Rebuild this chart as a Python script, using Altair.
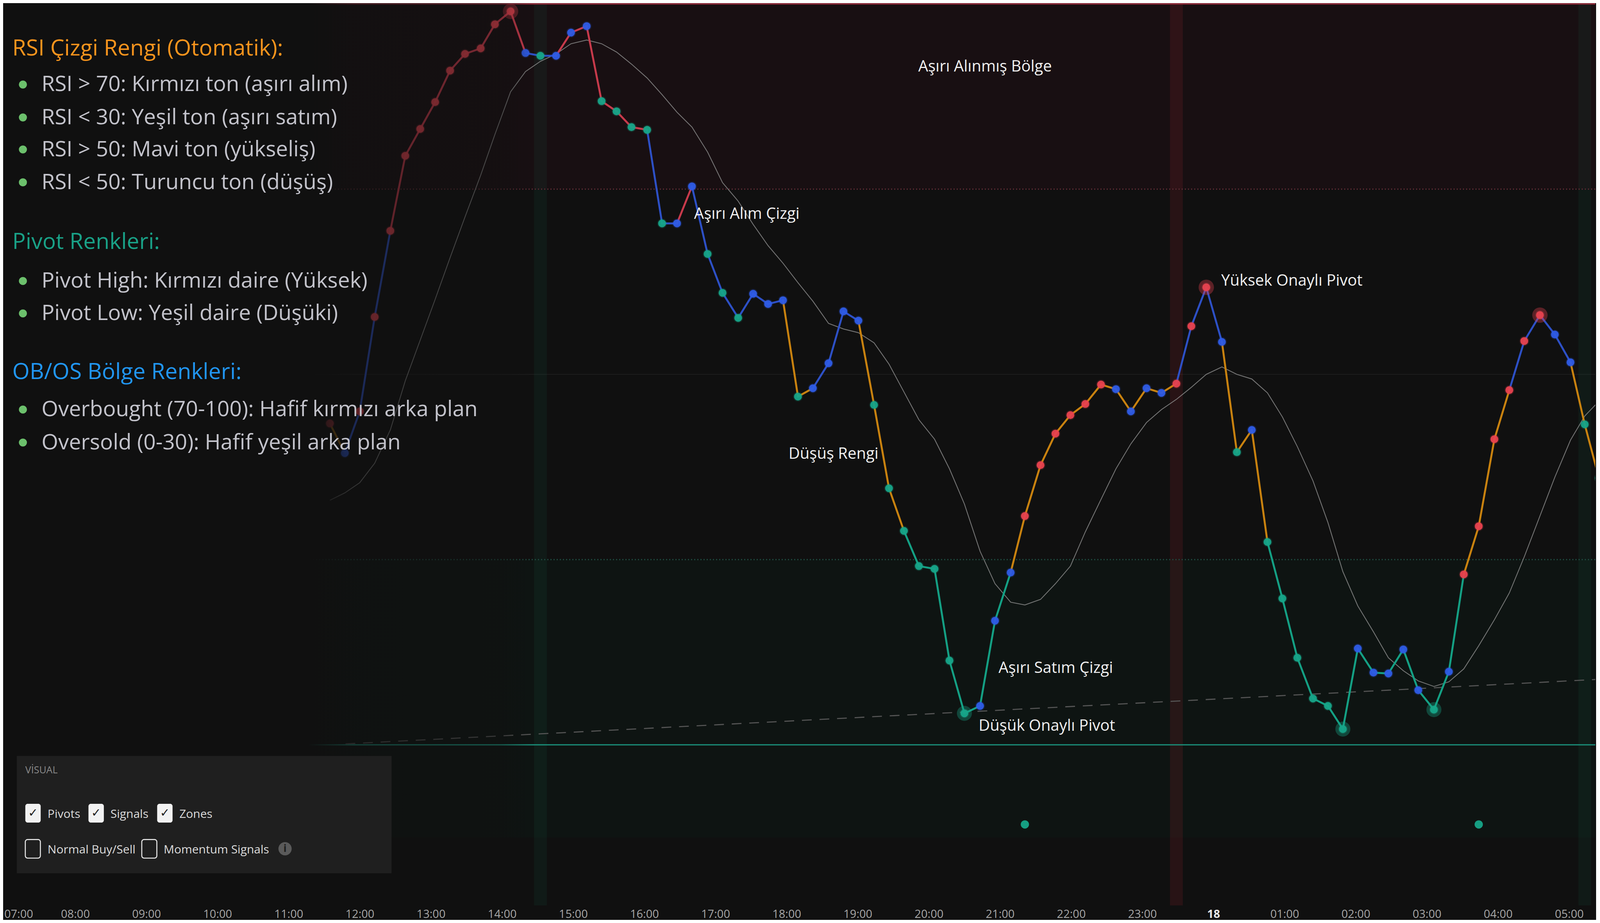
import altair as alt
import pandas as pd

# ------------------------------------------------------------------
# Data
# ------------------------------------------------------------------
# bar times (hours since 00:00 of the 17th; 24 = midnight "18")
hours = [11.58, 11.79, 12.00, 12.21, 12.43, 12.64, 12.85, 13.06, 13.27, 13.48,
         13.70, 13.90, 14.12, 14.33, 14.54, 14.76, 14.97, 15.19, 15.40, 15.61,
         15.82, 16.04, 16.25, 16.46, 16.67, 16.89, 17.10, 17.32, 17.53, 17.74,
         17.95, 18.16, 18.37, 18.59, 18.80, 19.01, 19.23, 19.44, 19.65, 19.86,
         20.08, 20.29, 20.50, 20.72, 20.93, 21.15, 21.35, 21.57, 21.78, 21.99,
         22.20, 22.42, 22.63, 22.84, 23.06, 23.27, 23.48, 23.69, 23.90, 24.12,
         24.33, 24.54, 24.76, 24.97, 25.18, 25.40, 25.61, 25.82, 26.03, 26.25,
         26.46, 26.67, 26.88, 27.10, 27.31, 27.52, 27.73, 27.95, 28.16, 28.37,
         28.59, 28.80, 29.02, 29.22, 29.42]

rsi = [44.7, 41.5, 46.0, 56.2, 65.5, 73.6, 76.5, 79.4, 82.8, 84.6,
       85.2, 87.8, 89.2, 84.7, 84.4, 84.4, 86.9, 87.6, 79.5, 78.4,
       76.7, 76.4, 66.3, 66.3, 70.3, 63.0, 58.8, 56.1, 58.7, 57.6,
       58.0, 47.6, 48.5, 51.2, 56.8, 55.8, 46.7, 37.7, 33.1, 29.3,
       29.0, 19.1, 13.4, 14.2, 23.4, 28.6, 34.7, 40.2, 43.6, 45.6,
       46.8, 48.9, 48.4, 46.0, 48.5, 48.0, 49.0, 55.2, 59.4, 53.5,
       41.6, 44.0, 31.9, 25.8, 19.4, 15.0, 14.2, 11.7, 20.4, 17.8,
       17.7, 20.3, 15.9, 13.8, 17.9, 28.4, 33.6, 43.0, 48.3, 53.6,
       56.4, 54.3, 51.3, 44.6, 38.8]

rsi_ma = [36.4, 37.2, 38.3, 40.4, 44.0, 49.3, 53.7, 58.1, 62.6, 67.0,
          71.5, 75.9, 80.5, 82.7, 83.8, 84.6, 85.7, 86.1, 85.7, 84.8,
          83.5, 82.0, 80.2, 78.3, 76.7, 74.0, 70.7, 68.7, 66.2, 63.9,
          62.0, 59.9, 57.9, 55.5, 54.9, 54.5, 53.4, 51.1, 48.1, 45.1,
          43.0, 39.8, 36.0, 30.9, 27.4, 25.4, 25.1, 25.7, 27.4, 29.3,
          33.0, 36.5, 39.8, 42.5, 44.8, 46.2, 47.3, 48.6, 50.0, 50.8,
          50.0, 49.5, 48.0, 45.4, 42.2, 38.5, 34.0, 28.7, 25.0, 22.2,
          19.4, 18.0, 16.9, 16.3, 16.8, 18.2, 20.7, 23.5, 26.4, 30.3,
          34.7, 38.9, 42.9, 45.5, 47.1]

# point state (R = red, B = blue, T = teal), one per bar
dot_state = ("RBRRRRRRRRRRR BTBBB TTTTT BB TTT BBB T BBBB TTTTTTT BBB RRRRRR "
             "BBBB RRR B T B TTTTTT BBBBB T B RRRRRR BB TT").replace(" ", "")
# line-segment state between consecutive bars (R, B, O = orange, T)
seg_state = ("O BBB RRRRRRRRR BB RRRRRR BB R BBBBBB OO BBB OOO TTTTTTT "
             "OOOOOOOOOOO BBB OOO TTTTTTTTTTTTT OOO BBBB OO").replace(" ", "")
assert len(dot_state) == len(hours) and len(seg_state) == len(hours) - 1

pivot_high_hours = [14.12, 23.90, 28.59]
pivot_low_hours = [20.50, 25.82, 27.10]
signal_hours = [21.35, 27.73]
signal_level = 1.4
band_hours = [14.54, 23.48, 29.22]
band_kind = ["buy", "sell", "buy"]
trend_hours = [11.80, 29.43]
trend_rsi = [10.1, 17.05]
zone_ob = [70, 100]
zone_os = [0, 30]

tick_hours = [7, 8, 9, 10, 11, 12, 13, 14, 15, 16, 17, 18, 19, 20, 21, 22, 23,
              24, 25, 26, 27, 28, 29]
tick_labels = ["07:00", "08:00", "09:00", "10:00", "11:00", "12:00", "13:00",
               "14:00", "15:00", "16:00", "17:00", "18:00", "19:00", "20:00",
               "21:00", "22:00", "23:00", "18", "01:00", "02:00", "03:00",
               "04:00", "05:00"]

ann_text = ["Aşırı Alınmış Bölge", "Aşırı Alım Çizgi", "Düşüş Rengi",
            "Yüksek Onaylı Pivot", "Aşırı Satım Çizgi", "Düşük Onaylı Pivot"]
ann_hour = [20.79, 16.70, 18.66, 24.11, 20.98, 20.70]
ann_rsi = [83.2, 67.3, 41.4, 60.1, 18.25, 12.03]
ann_center = [True, False, True, False, False, False]

legend_titles = ["RSI Çizgi Rengi (Otomatik):", "Pivot Renkleri:",
                 "OB/OS Bölge Renkleri:"]
legend_items = ["RSI > 70: Kırmızı ton (aşırı alım)",
                "RSI < 30: Yeşil ton (aşırı satım)",
                "RSI > 50: Mavi ton (yükseliş)",
                "RSI < 50: Turuncu ton (düşüş)",
                "Pivot High: Kırmızı daire (Yüksek)",
                "Pivot Low: Yeşil daire (Düşüki)",
                "Overbought (70-100): Hafif kırmızı arka plan",
                "Oversold (0-30): Hafif yeşil arka plan"]

panel_title = "VİSUAL"
panel_checked = ["Pivots", "Signals", "Zones"]
panel_unchecked = ["Normal Buy/Sell", "Momentum Signals"]

# ------------------------------------------------------------------
# Layout / style
# ------------------------------------------------------------------
# The page is rendered at a CSS width of ~4098 px (device scale ~1.217),
# so horizontal reference pixels are mapped with SX, vertical ones 1:1.
SX = 0.8215
TOTAL_W, TOTAL_H = 4078, 2346
W, H = 4078, 2309            # expected plot area inside the fitted chart
FS = 0.84                    # font scale


def h_of_ref(x):             # reference-pixel x -> hours
    return 7 + (x - 10.2) / 221.9


def r_of_ref(y):             # reference-pixel y -> RSI
    return 70 - (y - 484) / 23.7


X0 = h_of_ref(8 / SX)
X1 = h_of_ref((8 + W) / SX)
Y1 = r_of_ref(8)
Y0 = r_of_ref(8 + H)
BG = "#101010"
FONT = "Open Sans"

LINE_COL = {"R": "#c73a4b", "B": "#2d50c6", "O": "#c9820f", "T": "#14a084"}
DOT_COL = {"R": "#e8424f", "B": "#2e5ce6", "T": "#17a589"}

xs = alt.Scale(domain=[X0, X1], nice=False, zero=False)
ys = alt.Scale(domain=[Y0, Y1], nice=False, zero=False)
label_expr = "[" + ",".join("'%s'" % t for t in tick_labels) + "][datum.value - 7]"
xaxis = alt.Axis(values=tick_hours, labelExpr=label_expr, title=None, grid=False,
                 domain=False, ticks=False, tickSize=0, labelPadding=31,
                 labelBaseline="alphabetic", labelFont=FONT, labelFontSize=round(35 * FS),
                 labelColor={"condition": {"test": "datum.value == 24", "value": "#e8e8e8"},
                             "value": "#a6a6a6"},
                 labelFontWeight={"condition": {"test": "datum.value == 24", "value": "bold"},
                                  "value": "normal"},
                 labelFlush=10, labelOverlap=False, labelBound=False)


def X(f):
    return alt.X(f, type="quantitative", scale=xs, axis=xaxis)


def Y(f):
    return alt.Y(f, type="quantitative", scale=ys, axis=None)


# ------------------------------------------------------------------
# Tables
# ------------------------------------------------------------------
pts = pd.DataFrame({"hour": hours, "rsi": rsi, "ma": rsi_ma, "state": list(dot_state)})
segs = pd.DataFrame({"h1": hours[:-1], "r1": rsi[:-1], "h2": hours[1:], "r2": rsi[1:],
                     "state": list(seg_state)})
rsi_at = dict(zip(hours, rsi))
ph = pd.DataFrame({"hour": pivot_high_hours, "rsi": [rsi_at[h] for h in pivot_high_hours]})
pl = pd.DataFrame({"hour": pivot_low_hours, "rsi": [rsi_at[h] for h in pivot_low_hours]})
sig = pd.DataFrame({"hour": signal_hours, "rsi": [signal_level] * len(signal_hours)})
bands = pd.DataFrame({"c": band_hours, "kind": band_kind, "top": Y1, "bot": Y0})
zones = pd.DataFrame({"kind": ["ob", "os"], "lo": [zone_ob[0], zone_os[0]],
                      "hi": [zone_ob[1], zone_os[1]], "x0": X0, "x1": X1})
trend = pd.DataFrame({"hour": trend_hours, "rsi": trend_rsi})
ann = pd.DataFrame({"t": ann_text, "hour": ann_hour, "rsi": ann_rsi, "c": ann_center})

# keep every geometry inside the plotted window
clip_y = "max(%f, min(%f, datum.{f}))" % (Y0, Y1)
clip_x = "max(%f, min(%f, datum.{f}))" % (X0, X1)

layers = []

# zones
for kind, col in [("ob", "#180f12"), ("os", "#0e1412")]:
    layers.append(alt.Chart(zones).transform_filter("datum.kind == '%s'" % kind)
                  .transform_calculate(lo_c=clip_y.format(f="lo"), hi_c=clip_y.format(f="hi"))
                  .mark_rect(color=col, clip=True)
                  .encode(x=X("x0"), x2="x1", y=Y("lo_c"), y2="hi_c"))

# reference levels
lv = pd.DataFrame({"level": [90, 70, 50, 30, 10]})
layers.append(alt.Chart(lv).transform_filter("datum.level == 50")
              .mark_rule(color="#1d1d1d", strokeWidth=2).encode(y=Y("level")))

# signal bands
for kind, col, op in [("buy", "#1fa37a", 0.07), ("sell", "#d03040", 0.13)]:
    layers.append(alt.Chart(bands).transform_filter("datum.kind == '%s'" % kind)
                  .transform_calculate(l="datum.c - 0.09", r="datum.c + 0.09")
                  .transform_calculate(l_c=clip_x.format(f="l"), r_c=clip_x.format(f="r"))
                  .mark_rect(color=col, opacity=op, clip=True)
                  .encode(x=X("l_c"), x2="r_c", y=Y("top"), y2="bot"))

layers.append(alt.Chart(lv).transform_filter("datum.level == 90")
              .mark_rule(color="#a02e3f", strokeWidth=3.2).encode(y=Y("level")))
layers.append(alt.Chart(lv).transform_filter("datum.level == 70")
              .mark_rule(color="#5e2a34", strokeWidth=3.2, strokeDash=[3, 5]).encode(y=Y("level")))
layers.append(alt.Chart(lv).transform_filter("datum.level == 30")
              .mark_rule(color="#1f4c41", strokeWidth=3.2, strokeDash=[3, 5]).encode(y=Y("level")))
layers.append(alt.Chart(lv).transform_filter("datum.level == 10")
              .mark_rule(color="#1a927c", strokeWidth=2.8).encode(y=Y("level")))

# moving average and trend
layers.append(alt.Chart(pts).mark_line(color="#8c8c8c", strokeWidth=2.2, opacity=0.8, clip=True)
              .encode(x=X("hour"), y=Y("ma")))
layers.append(alt.Chart(trend).transform_calculate(hc=clip_x.format(f="hour"))
              .mark_line(color="#555555", strokeWidth=2.8, strokeDash=[25, 20], clip=True)
              .encode(x=X("hc"), y=Y("rsi")))

# RSI colored segments
layers.append(alt.Chart(segs).mark_rule(strokeWidth=5, strokeCap="round", clip=True)
              .encode(x=X("h1"), y=Y("r1"), x2="h2", y2="r2",
                      stroke=alt.Stroke("state:N", legend=None,
                                        scale=alt.Scale(domain=list(LINE_COL.keys()),
                                                        range=list(LINE_COL.values())))))

# pivot halos
layers.append(alt.Chart(ph).mark_circle(size=1550, color="#e8424f", opacity=0.35, clip=True)
              .encode(x=X("hour"), y=Y("rsi")))
layers.append(alt.Chart(pl).mark_circle(size=1480, color="#17a589", opacity=0.35, clip=True)
              .encode(x=X("hour"), y=Y("rsi")))

dot_fill = alt.Fill("state:N", legend=None,
                    scale=alt.Scale(domain=list(DOT_COL.keys()), range=list(DOT_COL.values())))
layers.append(alt.Chart(pts).mark_circle(size=620, opacity=0.2, clip=True)
              .encode(x=X("hour"), y=Y("rsi"), fill=dot_fill))
layers.append(alt.Chart(pts).mark_circle(size=400, opacity=0.95, clip=True)
              .encode(x=X("hour"), y=Y("rsi"), fill=dot_fill))

# signal dots
layers.append(alt.Chart(sig).mark_circle(size=450, color="#17a589", opacity=0.95, clip=True)
              .encode(x=X("hour"), y=Y("rsi")))

# left fade overlay
ov = pd.DataFrame({"x0": [X0], "x1": [h_of_ref(1660)], "top": [Y1], "bot": [Y0]})
grad = {"gradient": "linear", "x1": 0, "x2": 1, "y1": 0, "y2": 0,
        "stops": [{"offset": 0, "color": "rgba(16,16,16,1)"},
                  {"offset": 0.576, "color": "rgba(16,16,16,1)"},
                  {"offset": 0.661, "color": "rgba(16,16,16,0.62)"},
                  {"offset": 0.94, "color": "rgba(16,16,16,0.42)"},
                  {"offset": 1, "color": "rgba(16,16,16,0)"}]}
layers.append(alt.Chart(ov).mark_rect(fill=grad)
              .encode(x=X("x0"), x2="x1", y=Y("top"), y2="bot"))

# annotations
for centered, align in [(True, "center"), (False, "left")]:
    layers.append(alt.Chart(ann).transform_filter("datum.c" if centered else "!datum.c")
                  .mark_text(font=FONT, fontSize=round(48 * FS), color="#f0f0f0", align=align,
                             baseline="middle")
                  .encode(x=X("hour"), y=Y("rsi"), text="t:N"))

# legend text block (reference-pixel layout converted to data space)
title_y = [141.6, 636.7, 970.0]
title_col = ["#f7941d", "#19a187", "#2196f3"]
item_y = [233.4, 317.6, 399.5, 483.7, 736.0, 819.0, 1065.0, 1149.5]
for t, yy, col in zip(legend_titles, title_y, title_col):
    d = pd.DataFrame({"t": [t], "hour": [h_of_ref(36)], "rsi": [r_of_ref(yy)]})
    layers.append(alt.Chart(d).mark_text(font=FONT, fontSize=round(68 * FS), color=col,
                                         align="left", baseline="alphabetic")
                  .encode(x=X("hour"), y=Y("rsi"), text="t:N"))
items = pd.DataFrame({"t": legend_items, "hour": h_of_ref(127),
                      "rsi": [r_of_ref(v) for v in item_y],
                      "bh": h_of_ref(69), "br": [r_of_ref(v - 17) for v in item_y]})
layers.append(alt.Chart(items).mark_text(font=FONT, fontSize=round(66 * FS), color="#c3c3cb",
                                         align="left", baseline="alphabetic")
              .encode(x=X("hour"), y=Y("rsi"), text="t:N"))
layers.append(alt.Chart(items).mark_circle(size=430, color="#6cc06c", opacity=1)
              .encode(x=X("bh"), y=Y("br")))

# control panel
panel = pd.DataFrame({"x0": [h_of_ref(50)], "x1": [h_of_ref(1219)],
                      "y0": [r_of_ref(1934.4)], "y1": [r_of_ref(2234.8)]})
layers.append(alt.Chart(panel).mark_rect(color="#1f1f1f")
              .encode(x=X("x0"), x2="x1", y=Y("y0"), y2="y1"))
layers.append(alt.Chart(pd.DataFrame({"t": [panel_title], "hour": [h_of_ref(76.5)],
                                      "rsi": [r_of_ref(1979)]}))
              .mark_text(font=FONT, fontSize=round(30 * FS), color="#8a8a8a", align="left",
                         baseline="alphabetic")
              .encode(x=X("hour"), y=Y("rsi"), text="t:N"))
box_l = [76.5, 273.5, 487.8]
chk = pd.DataFrame({"t": panel_checked,
                    "x0": [h_of_ref(v) for v in box_l], "x1": [h_of_ref(v + 48) for v in box_l],
                    "y0": r_of_ref(2057), "y1": r_of_ref(2105),
                    "cx": [h_of_ref(v + 24) for v in box_l], "cy": r_of_ref(2081),
                    "lx": [h_of_ref(v) for v in [146, 342, 557]], "ly": r_of_ref(2093)})
layers.append(alt.Chart(chk).mark_rect(color="#f2f2f2", cornerRadius=6)
              .encode(x=X("x0"), x2="x1", y=Y("y0"), y2="y1"))
layers.append(alt.Chart(chk).mark_text(text="✓", font="DejaVu Sans", fontSize=round(36 * FS),
                                       fontWeight="bold", color="#1e1e1e", align="center",
                                       baseline="middle")
              .encode(x=X("cx"), y=Y("cy")))
layers.append(alt.Chart(chk).mark_text(font=FONT, fontSize=round(36 * FS), color="#dcdcdc",
                                       align="left", baseline="alphabetic")
              .encode(x=X("lx"), y=Y("ly"), text="t:N"))
box2_l = [76.5, 439.8]
unchk = pd.DataFrame({"t": panel_unchecked,
                      "x0": [h_of_ref(v) for v in box2_l], "x1": [h_of_ref(v + 47) for v in box2_l],
                      "y0": r_of_ref(2148.4), "y1": r_of_ref(2196),
                      "lx": [h_of_ref(v) for v in [146, 508]], "ly": r_of_ref(2184)})
layers.append(alt.Chart(unchk).mark_rect(fill="#1f1f1f", stroke="#e6e6e6", strokeWidth=2.6,
                                         cornerRadius=6)
              .encode(x=X("x0"), x2="x1", y=Y("y0"), y2="y1"))
layers.append(alt.Chart(unchk).mark_text(font=FONT, fontSize=round(36 * FS), color="#dcdcdc",
                                         align="left", baseline="alphabetic")
              .encode(x=X("lx"), y=Y("ly"), text="t:N"))
info = pd.DataFrame({"hour": [h_of_ref(886.7)], "rsi": [r_of_ref(2172)]})
layers.append(alt.Chart(info).mark_circle(size=1150, color="#5a5a5a", opacity=1)
              .encode(x=X("hour"), y=Y("rsi")))
layers.append(alt.Chart(info).mark_text(text="i", font=FONT, fontSize=round(32 * FS),
                                        fontWeight="bold", color="#1f1f1f", align="center",
                                        baseline="middle")
              .encode(x=X("hour"), y=Y("rsi")))

chart = (alt.layer(*layers)
         .properties(width=TOTAL_W, height=TOTAL_H, padding=0,
                     autosize=alt.AutoSizeParams(type="fit", contains="padding"))
         .configure(background=BG)
         .configure_view(strokeWidth=0))

chart.save("out.html", embed_options={"renderer": "svg", "actions": False})
